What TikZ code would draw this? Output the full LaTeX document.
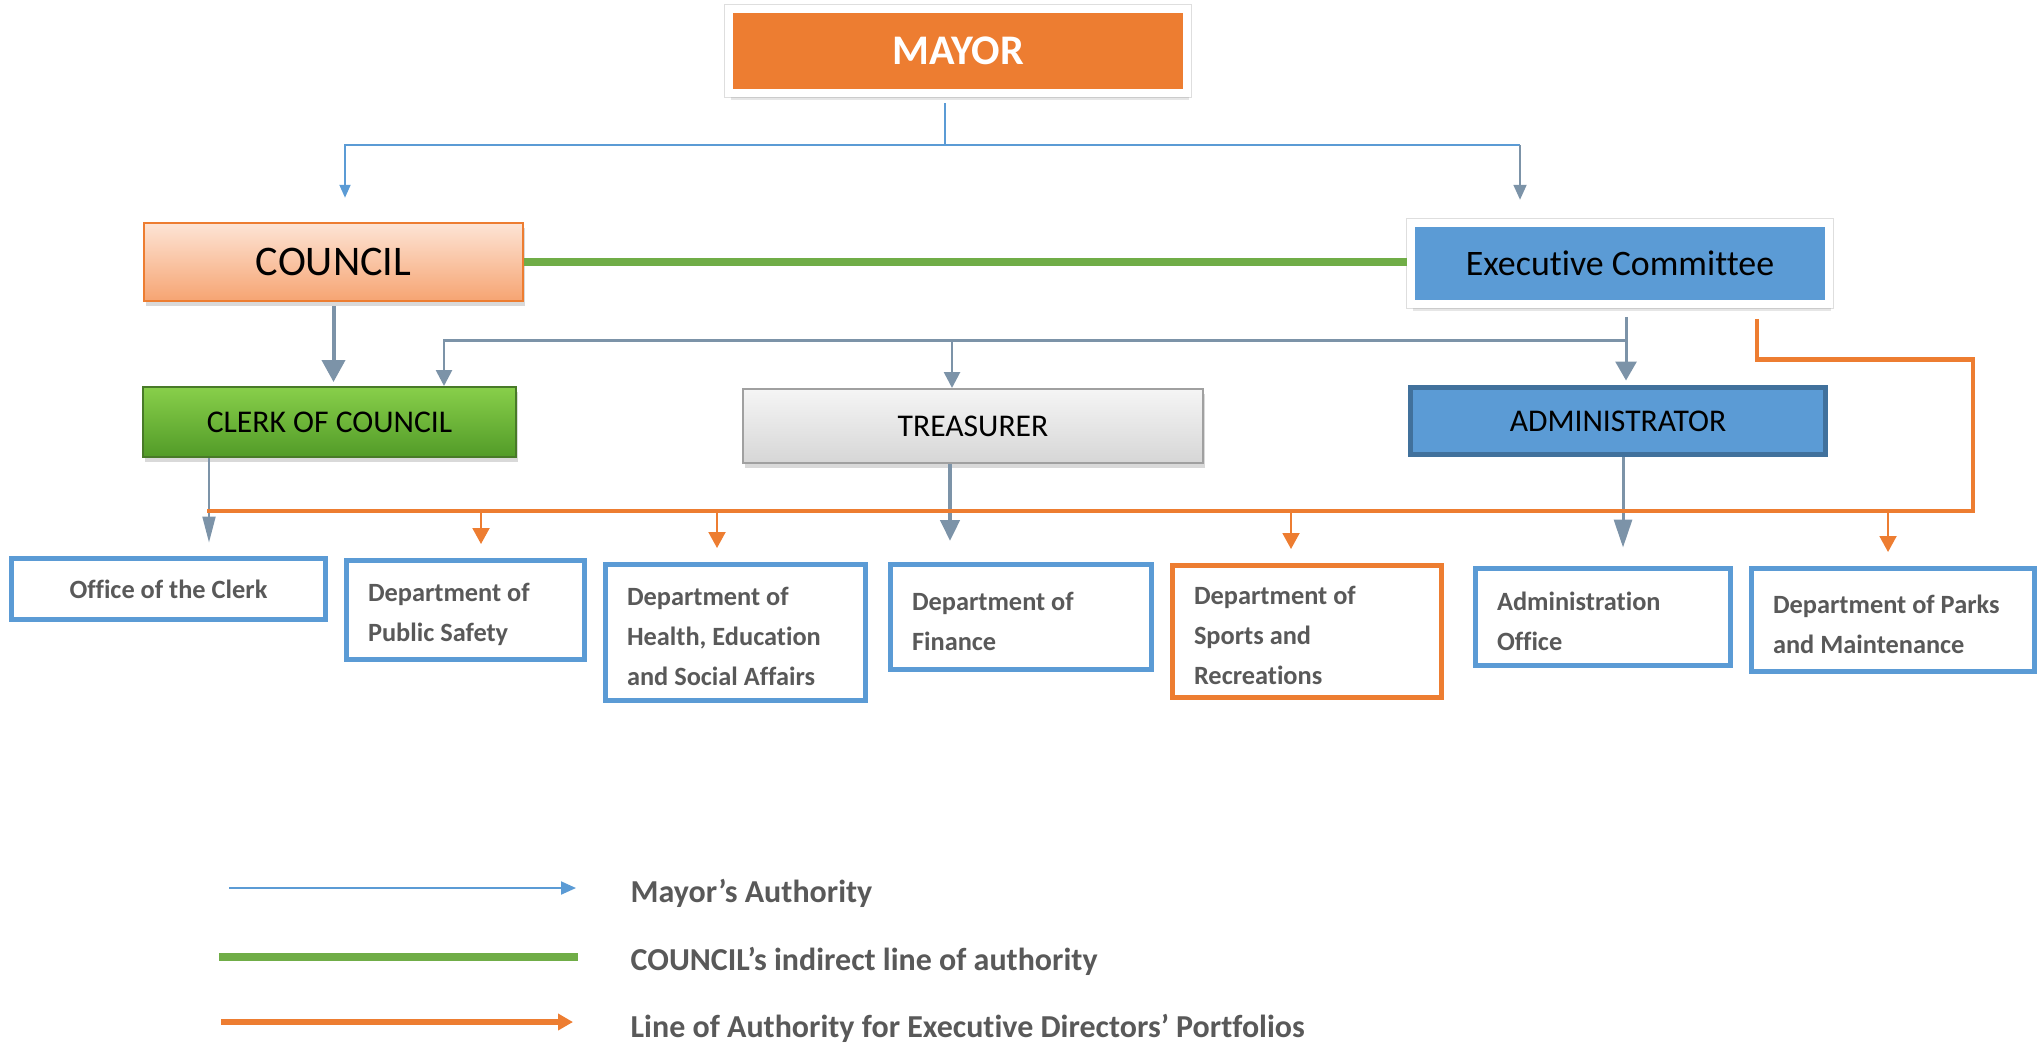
\documentclass[tikz,border=0pt]{standalone}
\usepackage{fontspec}
\setmainfont{Carlito}[Ligatures=NoCommon]
\usetikzlibrary{arrows.meta,shadows,calc}
\definecolor{mayororange}{HTML}{ED7D31}
\definecolor{execblue}{HTML}{5B9BD5}
\definecolor{admindark}{HTML}{41719C}
\definecolor{slate}{RGB}{124,147,168}
\definecolor{councilgreen}{HTML}{70AD47}
\definecolor{labelgray}{HTML}{595959}
\newcommand{\deptfont}{\fontsize{7.5}{11.3}\selectfont\bfseries}
\newcommand{\topfont}[1]{\fontsize{#1}{#1}\selectfont}

\begin{document}
\begin{tikzpicture}[x=0.1mm, y=-0.1mm,
                    framed/.style={rectangle, draw=white, line width=0.8mm,
                      preaction={draw=black!13, line width=1mm},
                      drop shadow={opacity=0.2, shadow xshift=0.2mm, shadow yshift=-0.7mm}},
                    officer/.style={rectangle, line width=0.2mm,
                      drop shadow={opacity=0.3, shadow xshift=0.15mm, shadow yshift=-0.5mm}},
                    dept/.style={rectangle, draw=execblue, line width=0.5mm, fill=white,
                      inner xsep=2.15mm, align=flush left, text=labelgray, font=\deptfont},
                    lines/.style={text height=2.65mm},
                    mayorline/.style={draw=execblue, line width=0.2mm},
                    portfolio/.style={draw=mayororange, line width=0.45mm},
                    drop/.style={draw=mayororange, line width=0.2mm,
                      -{Triangle[width=1.7mm,length=1.6mm]}, shorten >=1.4mm},
                    legend/.style={anchor=west, inner xsep=0pt, text=labelgray,
                      font=\fontsize{9.1}{11}\selectfont\bfseries}]
  \useasboundingbox (0,0) rectangle (2040,1044);

  % top level
  \node[framed, fill=mayororange, minimum width=45.8mm, minimum height=8.4mm,
        text=white, font=\topfont{12}\bfseries] (mayor) at (958,51) {MAYOR};
  \node[officer, draw=mayororange, line width=0.25mm, top color={rgb,255:red,253;green,228;blue,213},
        bottom color={rgb,255:red,246;green,164;blue,114}, minimum width=37.9mm, minimum height=7.8mm,
        font=\topfont{12}] (council) at (333.5,262) {COUNCIL};
  \node[framed, fill=execblue, minimum width=41.8mm, minimum height=8.15mm,
        font=\topfont{10.2}] (exec) at (1620,263.5) {Executive Committee};

  % officers
  \node[officer, draw={rgb,255:red,72;green,122;blue,40}, top color={rgb,255:red,136;green,207;blue,74},
        bottom color={rgb,255:red,82;green,155;blue,40}, minimum width=37.3mm, minimum height=7mm,
        font=\topfont{9}] (clerk) at (329.5,422) {CLERK OF COUNCIL};
  \node[officer, draw={rgb,255:red,160;green,160;blue,160}, top color={rgb,255:red,245;green,245;blue,245},
        bottom color={rgb,255:red,214;green,214;blue,214}, minimum width=46mm, minimum height=7.4mm,
        font=\topfont{9}] (treasurer) at (973,426) {TREASURER};
  \node[rectangle, draw=admindark, fill=execblue, line width=0.5mm, minimum width=41.5mm,
        minimum height=6.7mm, font=\topfont{9}] (admin) at (1618,421) {ADMINISTRATOR};

  % departments
  \node[dept, align=center, minimum width=31.4mm, minimum height=6.1mm] (office) at (168.5,589)
    {Office of the Clerk};
  \node[dept, lines, text width=19.5mm, minimum width=23.8mm, minimum height=9.9mm] (safety) at (465.5,610)
    {Department of\\Public Safety};
  \node[dept, lines, text width=21.7mm, minimum width=26mm, minimum height=13.6mm] (health) at (735.5,632.5)
    {Department of\\Health, Education\\and Social Affairs};
  \node[dept, lines, text width=21.8mm, minimum width=26.1mm, minimum height=10.5mm] (finance) at (1021,617)
    {Department of\\Finance};
  \node[dept, lines, draw=mayororange, text width=22.6mm, minimum width=26.9mm, minimum height=13.2mm]
    (sports) at (1307,631.5) {Department of\\Sports and\\Recreations};
  \node[dept, lines, text width=21.2mm, minimum width=25.5mm, minimum height=9.7mm] (adminoffice) at (1603,617)
    {Administration\\Office};
  \node[dept, lines, text width=24mm, minimum width=28.3mm, minimum height=10.3mm] (parks) at (1893,620)
    {Department of Parks\\and Maintenance};

  % mayor's authority
  \coordinate (split) at (945,145);
  \coordinate (councilin) at ([xshift=1.15mm]council.north);
  \coordinate (execin) at ([xshift=-10mm]exec.north);
  \draw[mayorline, shorten <=0.6mm] (mayor.south -| split) -- (split);
  \draw[mayorline, -{Triangle[width=1.1mm,length=1.3mm]}, shorten >=2.4mm] (split) -| (councilin);
  \draw[mayorline] (split) -- (split -| execin);
  \draw[slate, line width=0.2mm, -{Triangle[width=1.3mm,length=1.5mm]}, shorten >=1.9mm]
    (split -| execin) -- (execin);

  % council
  \draw[councilgreen, line width=0.8mm] (council.east) -- (council.east -| exec.west);
  \draw[slate, line width=0.4mm, -{Triangle[width=2.3mm,length=2.2mm]}, shorten <=0.4mm, shorten >=0.4mm]
    (council.south) -- (council.south |- clerk.north);

  % executive committee
  \coordinate (exout) at ([xshift=0.6mm]exec.south);
  \coordinate (exj) at ($(exout)+(0,32.5)$);
  \coordinate (clerkin) at ([xshift=11.45mm]clerk.north);
  \coordinate (treasin) at ([xshift=-2.1mm]treasurer.north);
  \draw[slate, line width=0.3mm, -{Triangle[width=2.1mm,length=1.9mm]}, shorten <=0.85mm, shorten >=0.45mm]
    (exout) -- (exout |- admin.north);
  \draw[slate, line width=0.27mm, -{Triangle[width=1.6mm,length=1.6mm]}] (exj) -| (clerkin);
  \draw[slate, line width=0.27mm, -{Triangle[width=1.6mm,length=1.6mm]}] (exj -| treasin) -- (treasin);

  % officers to departments
  \coordinate (clerkout) at ([xshift=-12.05mm]clerk.south);
  \coordinate (treasout) at ([xshift=-2.3mm]treasurer.south);
  \coordinate (adminout) at ([xshift=0.5mm]admin.south);
  \draw[slate, line width=0.2mm, -{Triangle[width=1.3mm,length=2.6mm]}, shorten >=1.35mm]
    (clerkout) -- (clerkout |- office.north);
  \draw[slate, line width=0.45mm, -{Triangle[width=1.9mm,length=2.1mm]}, shorten >=2.1mm]
    (treasout) -- (treasout |- finance.north);
  \draw[slate, line width=0.3mm, -{Triangle[width=1.8mm,length=2.8mm]}, shorten >=1.85mm]
    (adminout) -- (adminout |- adminoffice.north);

  % portfolios
  \coordinate (ocorner) at (1973,511);
  \coordinate (oleft) at (207,511);
  \draw[portfolio, shorten <=1.05mm] ([xshift=13.7mm]exec.south) -- ++(0,51) -| (ocorner) -- (oleft);
  \coordinate (dsafety) at ([xshift=1.55mm]safety.north);
  \coordinate (dhealth) at ([xshift=-1.85mm]health.north);
  \coordinate (dsports) at ([xshift=-1.6mm]sports.north);
  \coordinate (dparks) at ([xshift=-0.5mm]parks.north);
  \foreach \d in {dsafety,dhealth,dsports,dparks}
    \draw[drop] (\d |- oleft) -- (\d);

  % legend
  \coordinate (la1) at (229,888);  \coordinate (lb1) at (576,888);
  \coordinate (la2) at (219,957);  \coordinate (lb2) at (578,957);
  \coordinate (la3) at (221,1022); \coordinate (lb3) at (573,1022);
  \draw[mayorline, -{Triangle[width=1.3mm,length=1.5mm]}] (la1) -- (lb1);
  \draw[councilgreen, line width=0.8mm] (la2) -- (lb2);
  \draw[portfolio, line width=0.55mm, -{Triangle[width=1.6mm,length=1.5mm]}] (la3) -- (lb3);
  \node[legend] (leg1) at (630,893) {Mayor’s Authority};
  \node[legend] (leg2) at (630,961) {COUNCIL’s indirect line of authority};
  \node[legend] (leg3) at (630,1028) {Line of Authority for Executive Directors’ Portfolios};
\end{tikzpicture}
\end{document}
